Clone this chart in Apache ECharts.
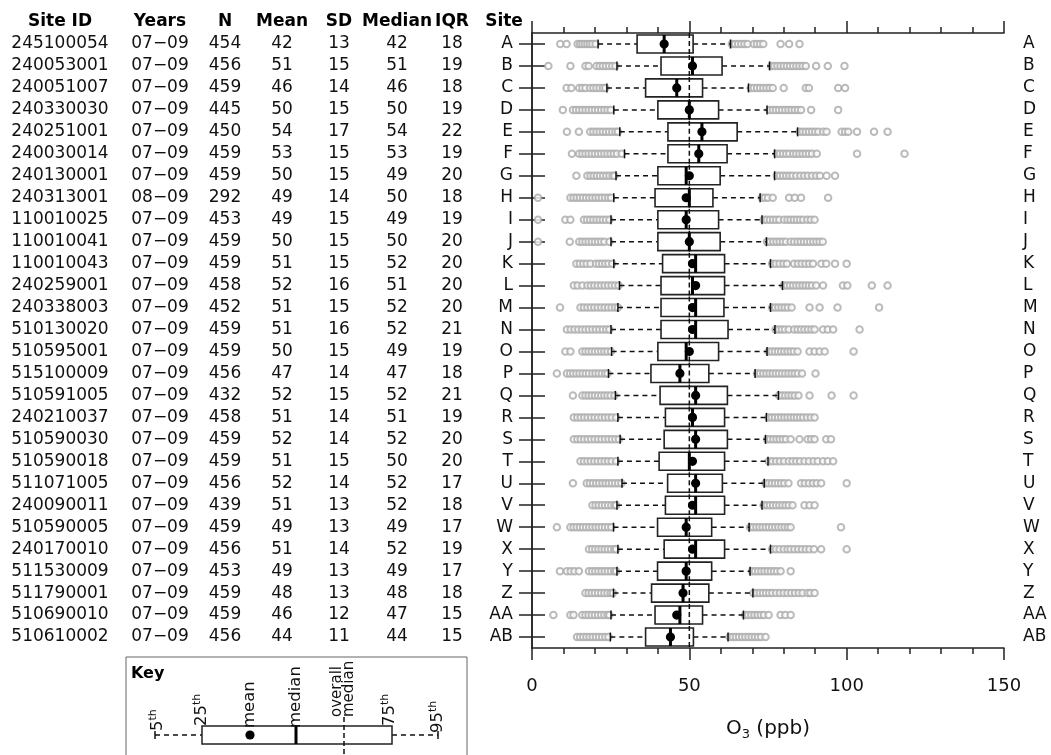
<!DOCTYPE html>
<html><head><meta charset="utf-8">
<script src="https://cdn.jsdelivr.net/npm/echarts@6/dist/echarts.min.js"></script>
<style>html,body{margin:0;padding:0;background:#fff}#c{width:1051px;height:755px}</style>
</head><body><div id="c"></div>
<script>
// ---------- data ----------
const sites = ['A','B','C','D','E','F','G','H','I','J','K','L','M','N','O','P','Q','R','S','T','U','V','W','X','Y','Z','AA','AB'];
const siteIds = ['245100054','240053001','240051007','240330030','240251001','240030014','240130001','240313001','110010025','110010041','110010043','240259001','240338003','510130020','510595001','515100009','510591005','240210037','510590030','510590018','511071005','240090011','510590005','240170010','511530009','511790001','510690010','510610002'];
const years = ['07−09','07−09','07−09','07−09','07−09','07−09','07−09','08−09','07−09','07−09','07−09','07−09','07−09','07−09','07−09','07−09','07−09','07−09','07−09','07−09','07−09','07−09','07−09','07−09','07−09','07−09','07−09','07−09'];
const nObs = [454,456,459,445,450,459,459,292,453,459,459,458,452,459,459,456,432,458,459,459,456,439,459,456,453,459,459,456];
const means = [42,51,46,50,54,53,50,49,49,50,51,52,51,51,50,47,52,51,52,51,52,51,49,51,49,48,46,44];
const sds = [13,15,14,15,17,15,15,14,15,15,15,16,15,16,15,14,15,14,14,15,14,13,13,14,13,13,12,11];
const medians = [42,51,46,50,54,53,49,50,49,50,52,51,52,52,49,47,52,51,52,50,52,52,49,52,49,48,47,44];
const iqrs = [18,19,18,19,22,19,20,18,19,20,20,20,20,21,19,18,21,19,20,20,17,18,17,19,17,18,15,15];
const p5  = [21.0,27.0,23.8,26.0,27.9,29.4,26.7,26.0,25.1,25.1,26.0,27.8,27.3,25.1,25.3,24.3,26.5,27.3,28.0,27.3,28.6,27.0,25.9,27.3,27.0,25.9,25.1,24.9];
const p25 = [33.4,41.0,36.1,40.0,43.2,43.2,40.0,39.1,40.0,40.0,41.5,41.0,41.0,41.0,40.0,37.8,40.7,42.4,42.0,40.4,43.1,42.4,39.9,42.0,39.9,38.0,39.1,36.1];
const p75 = [51.2,60.4,54.2,59.3,65.2,62.0,59.8,57.5,59.3,59.8,61.2,61.2,61.0,62.3,59.3,56.2,62.1,61.2,62.1,61.2,60.5,61.2,57.1,61.2,57.1,56.2,54.2,51.3];
const p95 = [63.1,75.5,68.8,74.7,84.4,77.1,77.1,72.5,73.1,74.5,75.8,79.6,75.8,77.2,74.7,70.9,78.3,74.5,74.2,75.0,73.8,73.1,69.0,75.8,69.3,70.2,67.2,62.3];
const outliers = [
 [9,11,14.5,15.3,16,16.8,17.6,18.4,19.2,20.2,63.5,64.5,65.5,66.5,67.5,68.5,70.5,71.5,72.5,73.5,79,81.7,85],
 [5.2,12.2,17,18,20.5,21.5,22.5,23.5,24.5,25.5,26.5,76,77,78,79,80,81,82,83,84,85,86,87,90.3,94,99.3],
 [11,12.5,15,16,17,18.5,19.5,20.5,21.5,22.5,23.3,69.5,70.5,71.5,72.5,73.5,74.5,75.5,76.5,80,87,88,97.3,99.5],
 [9.8,13,14,15,16,17,18,19,20,21,22,23,24,25,75.5,76.5,77.5,78.5,79.5,80.5,81.5,82.5,83.5,84.5,85.5,88.7,97.3],
 [11.1,14.9,18.5,19.5,20.5,21.5,22.5,23.5,24.5,25.5,26.5,27.3,85,86,87,88,89,90,91,92.5,93.6,98.4,99.5,100.5,103.3,108.7,113],
 [12.7,15,16,17,18,19,20,21,22,23,24,25,26,27,28.5,77.8,78.8,79.8,80.8,81.8,83,84,85,86,87,88,89,90.5,103.3,118.4],
 [14.1,17.6,18.6,19.6,20.6,21.6,22.6,23.6,24.6,25.6,26.2,77.8,78.8,79.8,80.8,81.8,82.8,84,85.3,86.5,87.7,89,90.3,91.5,93.6,96.3],
 [1.9,12.2,13.2,14.2,15.2,16.2,17.2,18.2,19.2,20.2,21.2,22.2,23.2,24.2,25.1,73,74,75,76.5,81.7,83.5,85.5,94.1],
 [1.9,10.6,12.2,16.5,17.5,18.5,19.5,20.5,21.5,22.5,23.5,24.6,73.6,74.6,75.6,76.6,77.6,78.6,80.1,81.2,82.2,83.2,84.2,85.2,86.2,87.5,88.6,89.8],
 [1.9,12,15,16,17,18,19,20,21,22,23,24.6,74.7,75.7,76.7,77.7,78.7,79.7,80.7,82.2,83.3,84.4,85.4,86.4,87.4,88.4,89.4,90.4,91.4,92.4],
 [14.1,15.2,16.3,17.4,18.6,20.3,21.3,22.3,23.3,24.3,25.5,76.3,77.5,78.7,79.9,81,83.3,84.5,85.7,86.9,88.1,89.3,92,93.5,96.3,100],
 [13.3,14.5,16,17.6,18.7,19.8,20.9,22,23.1,24.2,25.3,26.4,27.5,80,81,82,83,84,85,86,87,88,89,90.3,92.5,98.8,100.2,108,113],
 [8.9,15.4,16.5,17.6,18.7,19.8,20.9,22,23.1,24.2,25.3,26.4,27.3,76.3,77.3,78.3,79.3,80.3,81.3,82.5,88.2,91.4,97.1,110.3],
 [11.1,12.3,13.5,14.7,15.9,17,18.1,19.2,20.3,21.4,22.5,23.6,24.6,77.4,78.4,79.4,80.4,81.6,83.3,84.4,85.5,86.6,87.7,88.8,89.8,92.5,94,95.7,104.1],
 [10.6,12.2,16,17,18,19,20,21,22,23,24,25.1,75.2,76.2,77.2,78.2,79.2,80.2,81.2,82.2,83.2,84.4,88.2,89.8,91.4,93,102.2],
 [7.9,11.1,12.1,13.1,14.1,15.1,16.1,17.1,18.1,19.2,20.2,21.2,22.2,23.2,24,71.5,72.5,73.5,74.5,75.5,76.5,77.5,78.5,79.5,80.5,81.5,82.5,83.5,84.5,85.8,90.1],
 [13,16,17,18,19,20,21,22,23,24,25,26.2,78.5,79.5,80.5,81.5,82.5,83.5,84.7,88.2,95.2,102.2],
 [13.3,14.4,15.5,16.6,17.7,18.8,19.9,21,22.1,23.2,24.3,25.4,26.7,75.2,76.2,77.2,78.2,79.2,80.2,81.2,82.2,83.2,84.2,85.2,86.2,87.4,88.6,89.8],
 [13.3,14.4,15.5,16.6,17.7,18.8,19.9,21,22.1,23.2,24.3,25.4,26.5,27.6,74.7,75.7,76.7,77.7,78.7,79.7,80.7,82.2,85,87.6,88.7,89.8,93.5,95],
 [15.4,16.5,17.6,18.7,19.8,20.9,22,23.1,24.2,25.3,26.7,75.2,76.4,77.6,78.8,80.1,81.6,82.8,84,85.2,86.6,88,89.5,90.8,92.5,94,95.7],
 [13,17.4,18.4,19.4,20.4,21.4,22.4,23.4,24.4,25.4,26.4,27.4,28.4,74.2,75.2,76.2,77.2,78.2,79.2,80.2,81.5,85.5,86.7,88,89.3,90.5,91.9,100],
 [19.2,20.2,21.2,22.2,23.2,24.2,25.2,26.2,26.7,73.6,74.6,75.6,76.6,77.6,78.6,79.6,80.6,81.6,82.8,86.6,88.2,89.8],
 [7.9,12.2,13.2,14.2,15.2,16.2,17.2,18.2,19.2,20.2,21.2,22.2,23.2,24.2,25.2,69.3,70.3,71.3,72.3,73.3,74.3,75.3,76.3,77.3,78.3,79.3,80.3,81.3,82.2,98.2],
 [18.1,19.1,20.1,21.1,22.1,23.1,24.1,25.1,26.1,26.7,76.3,77.5,78.7,80,81.2,82.2,83.4,84.6,85.8,87,88.2,89.6,91.9,100],
 [8.9,11.1,12.3,13.5,14.9,18.1,19.1,20.1,21.1,22.1,23.1,24.1,25.1,26.1,26.7,69.9,70.9,71.9,72.9,73.9,74.9,75.9,76.9,77.9,79,82.2],
 [17,18,19,20,21,22,23,24,25,25.7,70.4,71.4,72.4,73.4,74.4,75.4,76.4,77.6,78.8,80,81.2,82.4,83.6,84.8,86,87.6,88.5,89.8],
 [6.8,12.2,13.2,16,17,18,19,20,21,22,23,24,24.6,67.7,68.7,69.7,70.7,71.7,72.7,73.7,75.2,79,80.5,82.2],
 [14.3,15.3,16.3,17.3,18.3,19.3,20.3,21.3,22.3,23.3,24.3,62.8,63.8,64.8,65.8,66.8,67.8,68.8,69.8,70.8,71.8,72.8,74.2]
];
const overallMedian = 50;
const xMin = 0, xMax = 150, xStep = 50;
const headers = ['Site ID','Years','N','Mean','SD','Median','IQR','Site'];
const axisTitle = 'O{s|3} (ppb)';

// ---------- layout ----------
const FONT = '"DejaVu Sans", sans-serif';
const INK = '#111';
const n = sites.length;
const revSites = sites.slice().reverse();
const rowOf = i => n - 1 - i;
const gridLeft = 532, gridTop = 33, gridRight = 47, gridBottom = 107;
const colVals = [siteIds, years, nObs, means, sds, medians, iqrs, null];
const colCenters = [60, 160, 225, 282, 339, 397, 452, 504];

const tableAxes = headers.map((h, k) => ({
  type: 'category', data: revSites, position: 'left', gridIndex: 0,
  offset: gridLeft - colCenters[k],
  axisLine: {show: false}, axisTick: {show: false}, splitLine: {show: false},
  axisLabel: {interval: 0, margin: 0, align: 'center', fontSize: 17, fontFamily: FONT, color: INK,
    formatter: v => colVals[k] ? String(colVals[k][sites.indexOf(v)]) : ''},
  name: h, nameLocation: 'end', nameGap: 3,
  nameTextStyle: {fontWeight: 'bold', fontSize: 17, fontFamily: FONT, color: '#000', align: 'center'}
}));

const catAxisBase = {
  type: 'category', data: revSites, gridIndex: 0,
  axisLine: {show: true, lineStyle: {color: '#222', width: 1.5}},
  axisTick: {show: true, alignWithLabel: true, interval: 0, length: 13, lineStyle: {color: '#222', width: 1.5}},
  axisLabel: {interval: 0, margin: 19, fontSize: 17, fontFamily: FONT, color: INK},
  splitLine: {show: false}
};

const xBase = {
  type: 'value', min: xMin, max: xMax, interval: xStep, gridIndex: 0,
  axisLine: {show: true, onZero: false, lineStyle: {color: '#222', width: 1.5}},
  axisTick: {show: true, length: 12, lineStyle: {color: '#222', width: 1.5}},
  minorTick: {show: true, splitNumber: 5, length: 6, lineStyle: {color: '#222', width: 1.5}},
  splitLine: {show: false}, minorSplitLine: {show: false}
};

const boxData = sites.map((s, i) => [rowOf(i), p5[i], p25[i], medians[i], p75[i], p95[i], means[i]]);
const outData = [];
outliers.forEach((arr, i) => arr.forEach(v => outData.push([v, rowOf(i)])));

function renderBox(params, api) {
  const yi = api.value(0);
  const c5 = api.coord([api.value(1), yi]);
  const c25 = api.coord([api.value(2), yi]);
  const cMed = api.coord([api.value(3), yi]);
  const c75 = api.coord([api.value(4), yi]);
  const c95 = api.coord([api.value(5), yi]);
  const cMean = api.coord([api.value(6), yi]);
  const cOv = api.coord([overallMedian, yi]);
  const band = api.size([0, 1])[1];
  const h = band * 0.82;
  const cy = c25[1];
  const dash = {stroke: '#111', lineWidth: 1.5, lineDash: [5, 4]};
  const solid = {stroke: '#111', lineWidth: 1.5};
  return {
    type: 'group',
    children: [
      {type: 'line', shape: {x1: c5[0], y1: cy, x2: c25[0], y2: cy}, style: dash},
      {type: 'line', shape: {x1: c75[0], y1: cy, x2: c95[0], y2: cy}, style: dash},
      {type: 'line', shape: {x1: c5[0], y1: cy - 4.5, x2: c5[0], y2: cy + 4.5}, style: solid},
      {type: 'line', shape: {x1: c95[0], y1: cy - 4.5, x2: c95[0], y2: cy + 4.5}, style: solid},
      {type: 'rect', shape: {x: c25[0], y: cy - h / 2, width: c75[0] - c25[0], height: h}, style: {fill: '#fff', stroke: '#222', lineWidth: 1.6}},
      {type: 'line', shape: {x1: cOv[0], y1: cy - band / 2, x2: cOv[0], y2: cy + band / 2}, style: {stroke: '#111', lineWidth: 1.5, lineDash: [5, 3]}},
      {type: 'line', shape: {x1: cMed[0], y1: cy - h / 2, x2: cMed[0], y2: cy + h / 2}, style: {stroke: '#000', lineWidth: 3}},
      {type: 'circle', shape: {cx: cMean[0], cy: cy, r: 4.6}, style: {fill: '#000'}}
    ]
  };
}

// ---------- key (explanatory legend) ----------
const kTxt = (x, y, text, extra) => Object.assign({
  type: 'text', x: x, y: y, rotation: Math.PI / 2,
  style: Object.assign({text: text, fontSize: 16.5, fontFamily: FONT, fill: INK, align: 'left', verticalAlign: 'middle',
    rich: {sup: {fontSize: 11, fontFamily: FONT, fill: INK, padding: [0, 0, 9, 0]}}}, extra || {})
});
const kY = 735;
const keyGraphic = [
  {type: 'rect', shape: {x: 126, y: 657, width: 341, height: 120}, style: {fill: '#fff', stroke: '#666', lineWidth: 1}},
  {type: 'text', x: 131, y: 666, style: {text: 'Key', fontSize: 16, fontWeight: 'bold', fontFamily: FONT, fill: '#000', align: 'left', verticalAlign: 'top'}},
  {type: 'line', shape: {x1: 155, y1: kY, x2: 202, y2: kY}, style: {stroke: '#111', lineWidth: 1.5, lineDash: [5, 4]}},
  {type: 'line', shape: {x1: 392, y1: kY, x2: 438, y2: kY}, style: {stroke: '#111', lineWidth: 1.5, lineDash: [5, 4]}},
  {type: 'line', shape: {x1: 155, y1: kY - 4, x2: 155, y2: kY + 4}, style: {stroke: '#111', lineWidth: 1.5}},
  {type: 'line', shape: {x1: 438, y1: kY - 4, x2: 438, y2: kY + 4}, style: {stroke: '#111', lineWidth: 1.5}},
  {type: 'rect', shape: {x: 202, y: 726, width: 190, height: 18}, style: {fill: '#fff', stroke: '#222', lineWidth: 1.5}},
  {type: 'line', shape: {x1: 344, y1: 717, x2: 344, y2: 760}, style: {stroke: '#111', lineWidth: 1.5, lineDash: [5, 3]}},
  {type: 'line', shape: {x1: 296, y1: 726, x2: 296, y2: 744}, style: {stroke: '#000', lineWidth: 3}},
  {type: 'circle', shape: {cx: 250, cy: kY, r: 4.6}, style: {fill: '#000'}},
  kTxt(158, 731, '5{sup|th}'),
  kTxt(202, 726, '25{sup|th}'),
  kTxt(250, 728, 'mean'),
  kTxt(296, 728, 'median'),
  kTxt(343, 717, 'overall\nmedian', {fontSize: 15, lineHeight: 12}),
  kTxt(390, 726, '75{sup|th}'),
  kTxt(438, 733, '95{sup|th}')
];

const chart = echarts.init(document.getElementById('c'), null, {renderer: 'canvas'});
chart.setOption({
  backgroundColor: '#fff',
  animation: false,
  grid: {left: gridLeft, right: gridRight, top: gridTop, bottom: gridBottom, containLabel: false, outerBoundsMode: 'none'},
  xAxis: [
    Object.assign({}, xBase, {position: 'bottom',
      axisLabel: {margin: 29, fontSize: 18, fontFamily: FONT, color: INK},
      name: axisTitle, nameLocation: 'middle', nameGap: 68,
      nameTextStyle: {fontSize: 20, fontFamily: FONT, color: INK,
        rich: {s: {fontSize: 13, fontFamily: FONT, color: INK, padding: [12, 0, 0, 0]}}}}),
    Object.assign({}, xBase, {position: 'top', axisLabel: {show: false}})
  ],
  yAxis: [
    Object.assign({}, catAxisBase, {position: 'left', axisLabel: Object.assign({}, catAxisBase.axisLabel, {align: 'right'})}),
    Object.assign({}, catAxisBase, {position: 'right', axisLabel: Object.assign({}, catAxisBase.axisLabel, {align: 'left'})})
  ].concat(tableAxes),
  series: [
    {type: 'scatter', xAxisIndex: 0, yAxisIndex: 0, data: outData, symbol: 'emptyCircle', symbolSize: 6.5,
      itemStyle: {color: '#aaaaaa', borderWidth: 1}, silent: true, z: 2},
    {type: 'custom', xAxisIndex: 0, yAxisIndex: 0, data: boxData, renderItem: renderBox,
      encode: {x: [1, 2, 3, 4, 5, 6], y: 0}, silent: true, z: 3}
  ],
  graphic: keyGraphic
});
</script>
</body></html>
